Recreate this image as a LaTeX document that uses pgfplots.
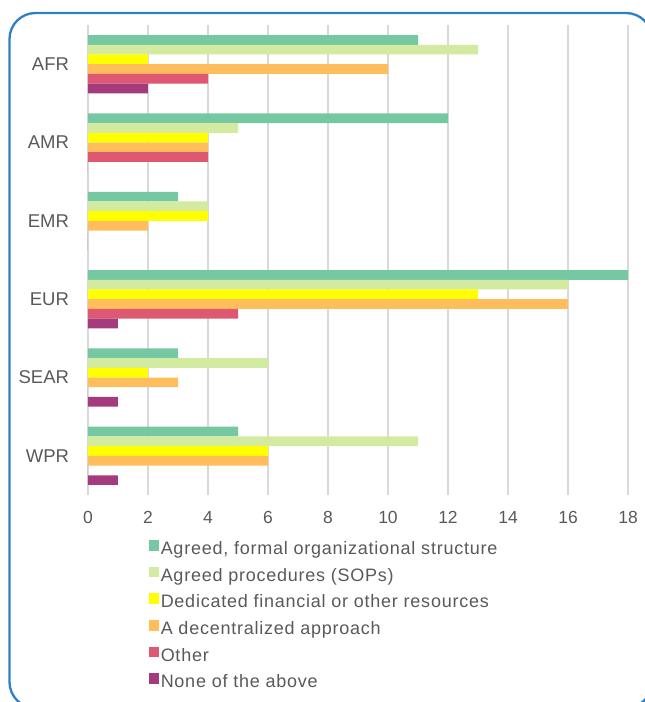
\documentclass[border=0pt]{standalone}
\usepackage{fontspec}
\setmainfont{Liberation Sans}
\newfontfamily\legfont[LetterSpace=4.2]{Liberation Sans}
\usepackage{pgfplots}
\pgfplotsset{compat=1.18}
\definecolor{cA}{HTML}{76C8A2}
\definecolor{cB}{HTML}{D2EBA0}
\definecolor{cC}{HTML}{FFFF00}
\definecolor{cD}{HTML}{FFBD5B}
\definecolor{cE}{HTML}{DE5871}
\definecolor{cF}{HTML}{A53B7D}
\definecolor{framecol}{HTML}{2E7FC6}
\definecolor{textgray}{HTML}{595959}
\definecolor{gridgray}{HTML}{D9D9D9}
\pgfplotstableread{
y  A  B  C  D  E  F
0  11 13 2  10 4  2
1  12 5  4  4  4  0
2  3  4  4  2  0  0
3  18 16 13 16 5  1
4  3  6  2  3  0  1
5  5  11 6  6  0  1
}\datatab
\begin{document}
\begin{tikzpicture}
\useasboundingbox (0pt,0pt) rectangle (645pt,-702pt);
\clip (0pt,0pt) rectangle (645pt,-702pt);
\draw[framecol, line width=2.3pt, rounded corners=26pt] (9.5pt,-13pt) rectangle (652pt,-708pt);
\begin{axis}[
  at={(88pt,-495pt)}, anchor=south west,
  scale only axis, width=540pt, height=470pt,
  xmin=0, xmax=18, ymin=-0.5, ymax=5.5,
  y dir=reverse,
  xbar=0pt, bar width=9.7pt,
  axis line style={draw=none},
  major tick length=0pt,
  xtick={0,2,...,18},
  ytick={0,...,5},
  yticklabels={AFR,AMR,EMR,EUR,SEAR,WPR},
  xmajorgrids,
  grid style={gridgray, line width=1.3pt},
  /pgf/number format/assume math mode=true,
  xticklabel style={font=\fontsize{17.5}{20}\selectfont, text=textgray, yshift=-13pt},
  yticklabel style={font=\fontsize{18.5}{22}\selectfont, text=textgray, xshift=-15.5pt},
  legend image code/.code={\fill[#1, draw=none] (0pt,-0.5pt) rectangle (10.5pt,10pt);},
  legend cell align=left,
  legend style={at={(0.1125,-0.0957)}, anchor=north west, draw=none, fill=none,
    font=\legfont\fontsize{18}{20}\selectfont, text=textgray,
    inner sep=0pt, row sep=8.6pt,
    nodes={text height=12.5pt, text depth=3.6pt, inner ysep=0pt, inner xsep=1.3pt}},
]
\addplot[fill=cA, draw=none, bar shift=24.25pt] table[x=A, y=y] {\datatab};
\addplot[fill=cB, draw=none, bar shift=14.55pt] table[x=B, y=y] {\datatab};
\addplot[fill=cC, draw=none, bar shift=4.85pt] table[x=C, y=y] {\datatab};
\addplot[fill=cD, draw=none, bar shift=-4.85pt] table[x=D, y=y] {\datatab};
\addplot[fill=cE, draw=none, bar shift=-14.55pt] table[x=E, y=y] {\datatab};
\addplot[fill=cF, draw=none, bar shift=-24.25pt] table[x=F, y=y] {\datatab};
\legend{{Agreed, formal organizational structure},{Agreed procedures (SOPs)},{Dedicated financial or other resources},{A decentralized approach},{Other},{None of the above}}
\end{axis}
\end{tikzpicture}
\end{document}
